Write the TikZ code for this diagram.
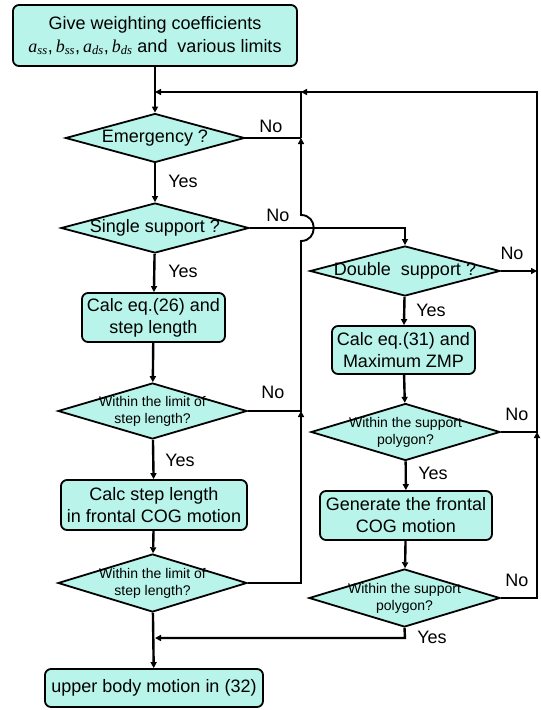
\documentclass[tikz,border=0pt]{standalone}
\usepackage{fontspec}
\setmainfont{Liberation Sans}
\newfontfamily\tmsfont{Liberation Serif}
\usetikzlibrary{arrows.meta,shapes.geometric}
\newcommand{\coef}[2]{{\tmsfont\itshape #1\textsubscript{#2}}}
\begin{document}
\begin{tikzpicture}[x=1pt,y=-1pt,
  stepbox/.style={draw,line width=1.8pt,rounded corners=6pt,fill={rgb,255:red,184;green,244;blue,234},align=center,inner sep=0pt,font=\fontsize{18}{22}\selectfont},
  test/.style={draw,diamond,line width=1.8pt,fill={rgb,255:red,184;green,244;blue,234},inner sep=0pt},
  qbig/.style={font=\fontsize{18}{22}\selectfont},
  qsmall/.style={font=\fontsize{14}{17}\selectfont,align=center},
  flow/.style={line width=2.4pt,-{Triangle[length=6pt,width=6pt]}},
  side/.style={line width=1.9pt},
  sideflow/.style={line width=1.9pt,-{Triangle[length=6pt,width=6pt]}},
  lab/.style={font=\fontsize{18}{22}\selectfont}]
\useasboundingbox (0,0) rectangle (541,710);
% left column
\node[stepbox,minimum width=284pt,minimum height=61pt] (start) at (155,35.5) {Give weighting coefficients\\[1pt]\coef{a}{ss},\,\coef{b}{ss},\,\coef{a}{ds},\,\coef{b}{ds}\ and\ \ various limits};
\node[test,minimum width=179pt,minimum height=49pt,label={[qbig]center:Emergency ?}] (emer) at (155,138) {};
\node[test,minimum width=188pt,minimum height=50pt,label={[qbig]center:Single support ?}] (single) at (155,228) {};
\node[stepbox,minimum width=143pt,minimum height=49pt] (calc26) at (153.5,317.5) {Calc eq.(26) and\\step length};
\node[test,minimum width=189pt,minimum height=56pt,label={[qsmall]center:Within the limit of\\step length?}] (lim1) at (152.5,411) {};
\node[stepbox,minimum width=186pt,minimum height=50pt] (steplen) at (154,505) {Calc step length\\in frontal COG motion};
\node[test,minimum width=189pt,minimum height=58pt,label={[qsmall]center:Within the limit of\\step length?}] (lim2) at (152.5,583) {};
\node[stepbox,minimum width=218pt,minimum height=38pt] (upper) at (154,688) {upper body motion in (32)};
% right column
\node[test,minimum width=190pt,minimum height=50pt,label={[qbig]center:Double\ \ support ?}] (double) at (405,271) {};
\node[stepbox,minimum width=143pt,minimum height=48pt] (calc31) at (403.5,350) {Calc eq.(31) and\\Maximum ZMP};
\node[test,minimum width=189pt,minimum height=57pt,label={[qsmall]center:Within the support\\polygon?}] (poly1) at (405.5,432) {};
\node[stepbox,minimum width=172pt,minimum height=49pt] (frontal) at (406,515.5) {Generate the frontal\\COG motion};
\node[test,minimum width=191pt,minimum height=58pt,label={[qsmall]center:Within the support\\polygon?}] (poly2) at (404.5,598) {};
% junctions
\coordinate (jtop) at (155,92); \coordinate (jmid) at (301,92); \coordinate (jemer) at (301,138);
\coordinate (jlim1) at (301,411); \coordinate (jlim2) at (301,583);
\coordinate (rtop) at (537,92); \coordinate (rdbl) at (537,271); \coordinate (rpoly1) at (537,432); \coordinate (rpoly2) at (537,598);
\coordinate (sdbl) at (405,228); \coordinate (bpoly) at (405,638); \coordinate (bjoin) at (155,638);
% main flow
\draw[flow] (start) -- (emer);
\draw[flow] (emer) -- (single);
\draw[flow] (single) -- (calc26);
\draw[flow] (calc26) -- (lim1);
\draw[flow] (lim1) -- (steplen);
\draw[flow] (steplen) -- (lim2);
\draw[flow] (lim2) -- (upper);
\draw[flow] (double) -- (calc31);
\draw[flow] (calc31) -- (poly1);
\draw[flow] (poly1) -- (frontal);
\draw[flow] (frontal) -- (poly2);
% loops
\draw[side] (emer.east) -- (jemer);
\draw[sideflow] (lim2.east) -- (jlim2) -- (jlim1);
\draw[sideflow] (lim1.east) -- (jlim1) -- (301,241) .. controls (318,241) and (318,215) .. (301,215) -- (jemer);
\draw[flow] (jemer) -- (jmid) -- (jtop);
\draw[sideflow] (single.east) -- (sdbl) -- (double);
\draw[sideflow] (double.east) -- (rdbl);
\draw[sideflow] (poly2.east) -- (rpoly2) -- (rpoly1);
\draw[flow] (poly1.east) -- (rpoly1) -- (rtop) -- (jmid);
\draw[flow] (poly2.south) -- (bpoly) -- (bjoin);
% labels
\node[lab] (noemer) at (271,126) {No};
\node[lab] (yesemer) at (183,181) {Yes};
\node[lab] (nosingle) at (278,215) {No};
\node[lab] (yessingle) at (183,271) {Yes};
\node[lab] (nodouble) at (512,253) {No};
\node[lab] (yesdouble) at (431,310) {Yes};
\node[lab] (nolim1) at (273,392) {No};
\node[lab] (yeslim1) at (180,460) {Yes};
\node[lab] (nopoly1) at (517,414) {No};
\node[lab] (yespoly1) at (433,473) {Yes};
\node[lab] (nopoly2) at (517,580) {No};
\node[lab] (yespoly2) at (432,637) {Yes};
\end{tikzpicture}
\end{document}
